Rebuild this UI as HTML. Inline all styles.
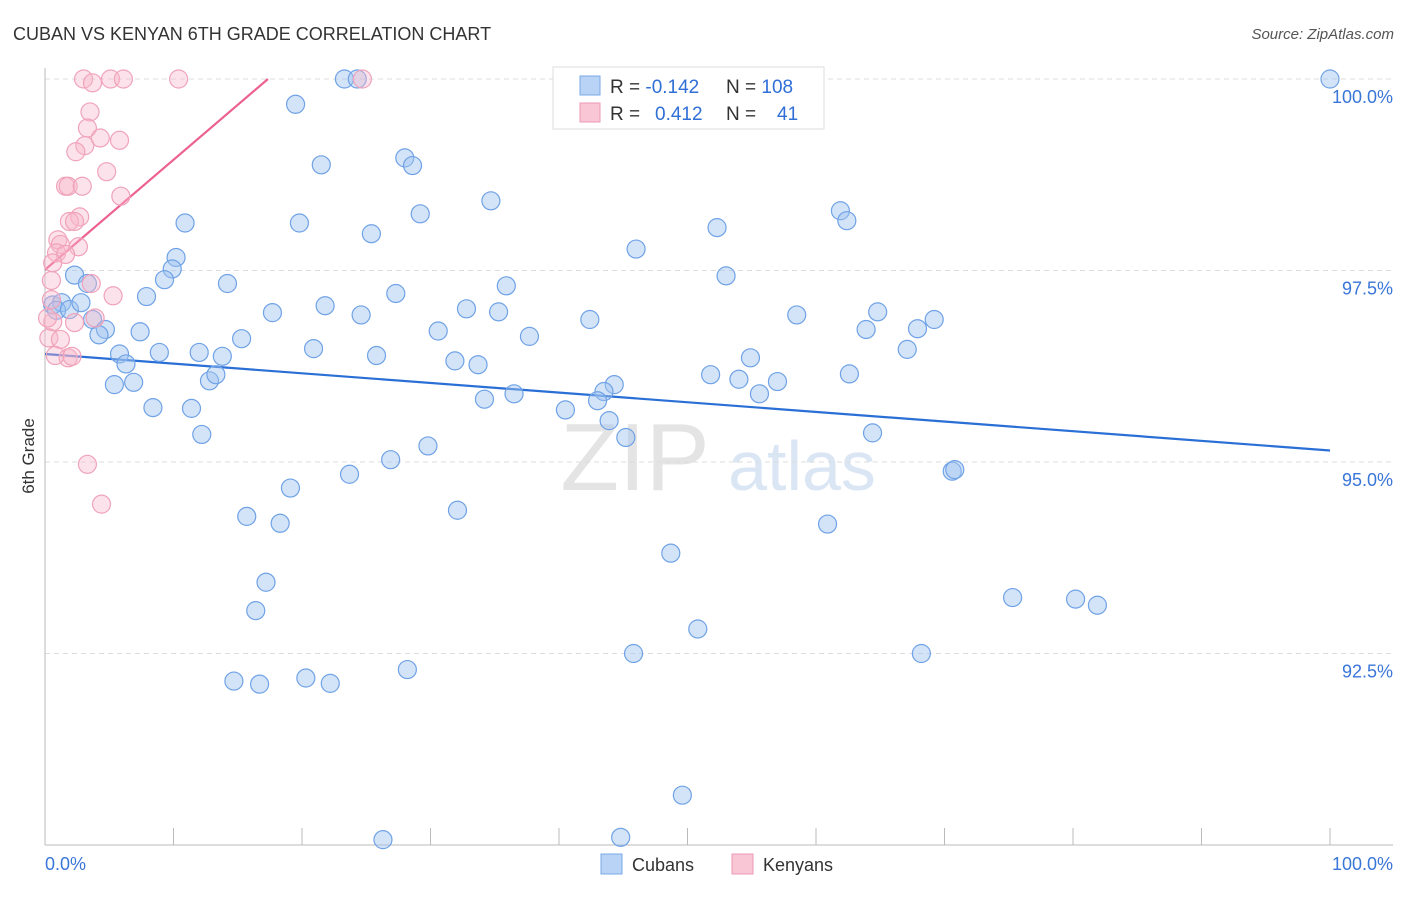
<!DOCTYPE html>
<html><head><meta charset="utf-8"><style>
body{margin:0;background:#fff;width:1406px;height:892px;overflow:hidden;font-family:"Liberation Sans",sans-serif}
svg text{font-family:"Liberation Sans",sans-serif}
</style></head><body>
<svg id="chart" width="1406" height="892">
<text x="13" y="40" font-size="18" fill="#333">CUBAN VS KENYAN 6TH GRADE CORRELATION CHART</text>
<text x="1394" y="39" font-size="15" fill="#555" font-style="italic" text-anchor="end">Source: ZipAtlas.com</text>
<text x="34" y="456" font-size="17" fill="#333" text-anchor="middle" transform="rotate(-90 34 456)">6th Grade</text>
<g>
<text x="635" y="490" font-size="96" fill="#e4e4e4" font-family="Liberation Serif" text-anchor="middle">ZIP</text>
<text x="802" y="490" font-size="70" fill="#dbe6f5" text-anchor="middle">atlas</text>
</g>
<g id="grid"></g><g id="axes"></g><g id="trends"></g><g id="points"></g>
<g>
<rect x="553" y="67" width="271" height="62" fill="#fff" stroke="#ddd"/>
<rect x="580" y="76" width="20" height="19" fill="#b8d3f5" stroke="#7aa8e8"/>
<rect x="580" y="103" width="20" height="19" fill="#f8c6d4" stroke="#ee9ab4"/>
<text x="610" y="93" font-size="19" fill="#333">R = <tspan fill="#2f6fd6">-0.142</tspan></text>
<text x="726" y="93" font-size="19" fill="#333">N = <tspan fill="#2f6fd6">108</tspan></text>
<text x="610" y="120" font-size="19" fill="#333">R = <tspan fill="#2f6fd6" x="655">0.412</tspan></text>
<text x="726" y="120" font-size="19" fill="#333">N = <tspan fill="#2f6fd6" x="777">41</tspan></text>
</g>
<g>
<rect x="601" y="854" width="21" height="20" fill="#b8d3f5" stroke="#7aa8e8"/>
<text x="632" y="871" font-size="18" fill="#333">Cubans</text>
<rect x="732" y="854" width="21" height="20" fill="#f8c6d4" stroke="#ee9ab4"/>
<text x="763" y="871" font-size="18" fill="#333">Kenyans</text>
</g>
</svg>
<script>
const blueX=[100,23.3,24.3,19.5,21.5,28.0,28.6,34.7,29.2,10.9,19.8,25.4,52.3,61.9,62.4,46.0,10.2,9.9,9.3,14.2,2.3,3.3,7.9,0.6,1.3,0.9,1.9,2.8,3.7,4.7,4.2,7.4,17.7,21.8,27.3,24.6,32.8,35.3,35.9,30.6,37.7,42.4,53.0,58.5,64.8,63.9,67.9,69.2,67.1,15.3,20.9,13.8,12.0,8.9,5.8,6.3,5.4,6.9,12.8,13.3,25.8,31.9,33.7,54.9,51.8,54.0,57.0,62.6,55.6,44.3,43.5,43.0,34.2,36.5,40.5,43.9,45.2,8.4,11.4,12.2,29.8,26.9,23.7,19.1,15.7,18.3,32.1,60.9,64.4,70.6,70.8,48.7,17.2,16.4,75.3,80.2,81.9,50.8,45.8,68.2,14.7,16.7,20.3,22.2,28.2,49.6,26.3,44.8];
const blueY=[100,100,100,99.67,98.88,98.97,98.87,98.41,98.24,98.12,98.12,97.98,98.06,98.28,98.15,97.78,97.67,97.52,97.38,97.33,97.44,97.33,97.16,97.05,97.08,96.98,96.99,97.08,96.86,96.73,96.66,96.70,96.95,97.04,97.20,96.92,97.0,96.96,97.30,96.71,96.64,96.86,97.43,96.92,96.96,96.73,96.74,96.86,96.47,96.61,96.48,96.38,96.43,96.43,96.41,96.28,96.01,96.04,96.06,96.14,96.39,96.32,96.27,96.36,96.14,96.08,96.05,96.15,95.89,96.01,95.92,95.80,95.82,95.89,95.68,95.54,95.32,95.71,95.70,95.36,95.21,95.03,94.84,94.66,94.29,94.20,94.37,94.19,95.38,94.88,94.90,93.81,93.43,93.06,93.23,93.21,93.13,92.82,92.50,92.50,92.14,92.10,92.18,92.11,92.29,90.65,90.07,90.10];
const pinkX=[3.0,3.7,5.1,6.1,10.4,24.7,3.5,3.3,4.3,5.8,3.1,2.4,4.8,1.6,1.8,2.9,5.9,2.7,1.9,2.3,1.0,1.2,2.6,0.9,1.6,0.6,0.5,3.6,5.3,0.5,0.6,2.3,3.9,0.3,1.2,1.8,0.8,2.1,3.3,4.4,0.2];
const pinkY=[100,99.95,100,100,100,100,99.57,99.36,99.23,99.20,99.13,99.05,98.79,98.60,98.60,98.60,98.47,98.20,98.14,98.14,97.90,97.84,97.81,97.73,97.71,97.60,97.37,97.33,97.17,97.12,96.83,96.82,96.88,96.62,96.60,96.36,96.39,96.38,94.97,94.45,96.88];
const blueTrend=[96.41,95.15];
const pinkTrend=[97.51,100];
const yTicks=[100,97.5,95,92.5];
const yTickLabels=["100.0%","97.5%","95.0%","92.5%"];
const xTicks=[0,10,20,30,40,50,60,70,80,90,100];

const NS="http://www.w3.org/2000/svg";
const X0=45,X1=1330,Y0=845,Y1=79;
const sx=v=>X0+(v/100)*(X1-X0);
const sy=v=>Y0-(v-90)/10*(Y0-Y1);
function mk(tag,attrs,parent){const e=document.createElementNS(NS,tag);for(const k in attrs)e.setAttribute(k,attrs[k]);document.getElementById(parent).appendChild(e);return e;}
yTicks.forEach((t,i)=>{
  const l=mk('line',{x1:X0,x2:1393,y1:sy(t),y2:sy(t),stroke:'#ddd','stroke-dasharray':'5,4'},'grid');
  
  
  const tx=mk('text',{x:1393,y:sy(t)+24,'font-size':18,fill:'#3a76d8','text-anchor':'end'},'grid');
  tx.textContent=yTickLabels[i];
  
  
});
const ax=mk('line',{x1:X0,x2:X0,y1:68,y2:Y0,stroke:'#bbb'},'axes');


const bx=mk('line',{x1:X0,x2:1393,y1:Y0,y2:Y0,stroke:'#bbb'},'axes');


xTicks.forEach(t=>{
  const l=mk('line',{x1:sx(t),x2:sx(t),y1:Y0,y2:Y0-17,stroke:'#bbb'},'axes');
  
  
});
const xl0=mk('text',{x:45,y:870,'font-size':18,fill:'#3a76d8'},'axes');xl0.textContent='0.0%';


const xl1=mk('text',{x:1393,y:870,'font-size':18,fill:'#3a76d8','text-anchor':'end'},'axes');xl1.textContent='100.0%';


blueX.forEach((v,i)=>{
  const c=mk('circle',{cx:sx(v),cy:sy(blueY[i]),r:9,fill:'rgba(160,196,240,0.45)',stroke:'#6fa2e6','stroke-width':1.2},'points');
  
  
});
pinkX.forEach((v,i)=>{
  const c=mk('circle',{cx:sx(v),cy:sy(pinkY[i]),r:9,fill:'rgba(248,182,202,0.4)',stroke:'#f0a3bb','stroke-width':1.2},'points');
  
  
});
const bt=mk('line',{x1:sx(0),y1:sy(blueTrend[0]),x2:sx(100),y2:sy(blueTrend[1]),stroke:'#2a6fd6','stroke-width':2.2},'trends');


const pt=mk('line',{x1:sx(0),y1:sy(pinkTrend[0]),x2:sx(17.35),y2:sy(pinkTrend[1]),stroke:'#ec6190','stroke-width':2.2},'trends');


</script>
</body></html>
